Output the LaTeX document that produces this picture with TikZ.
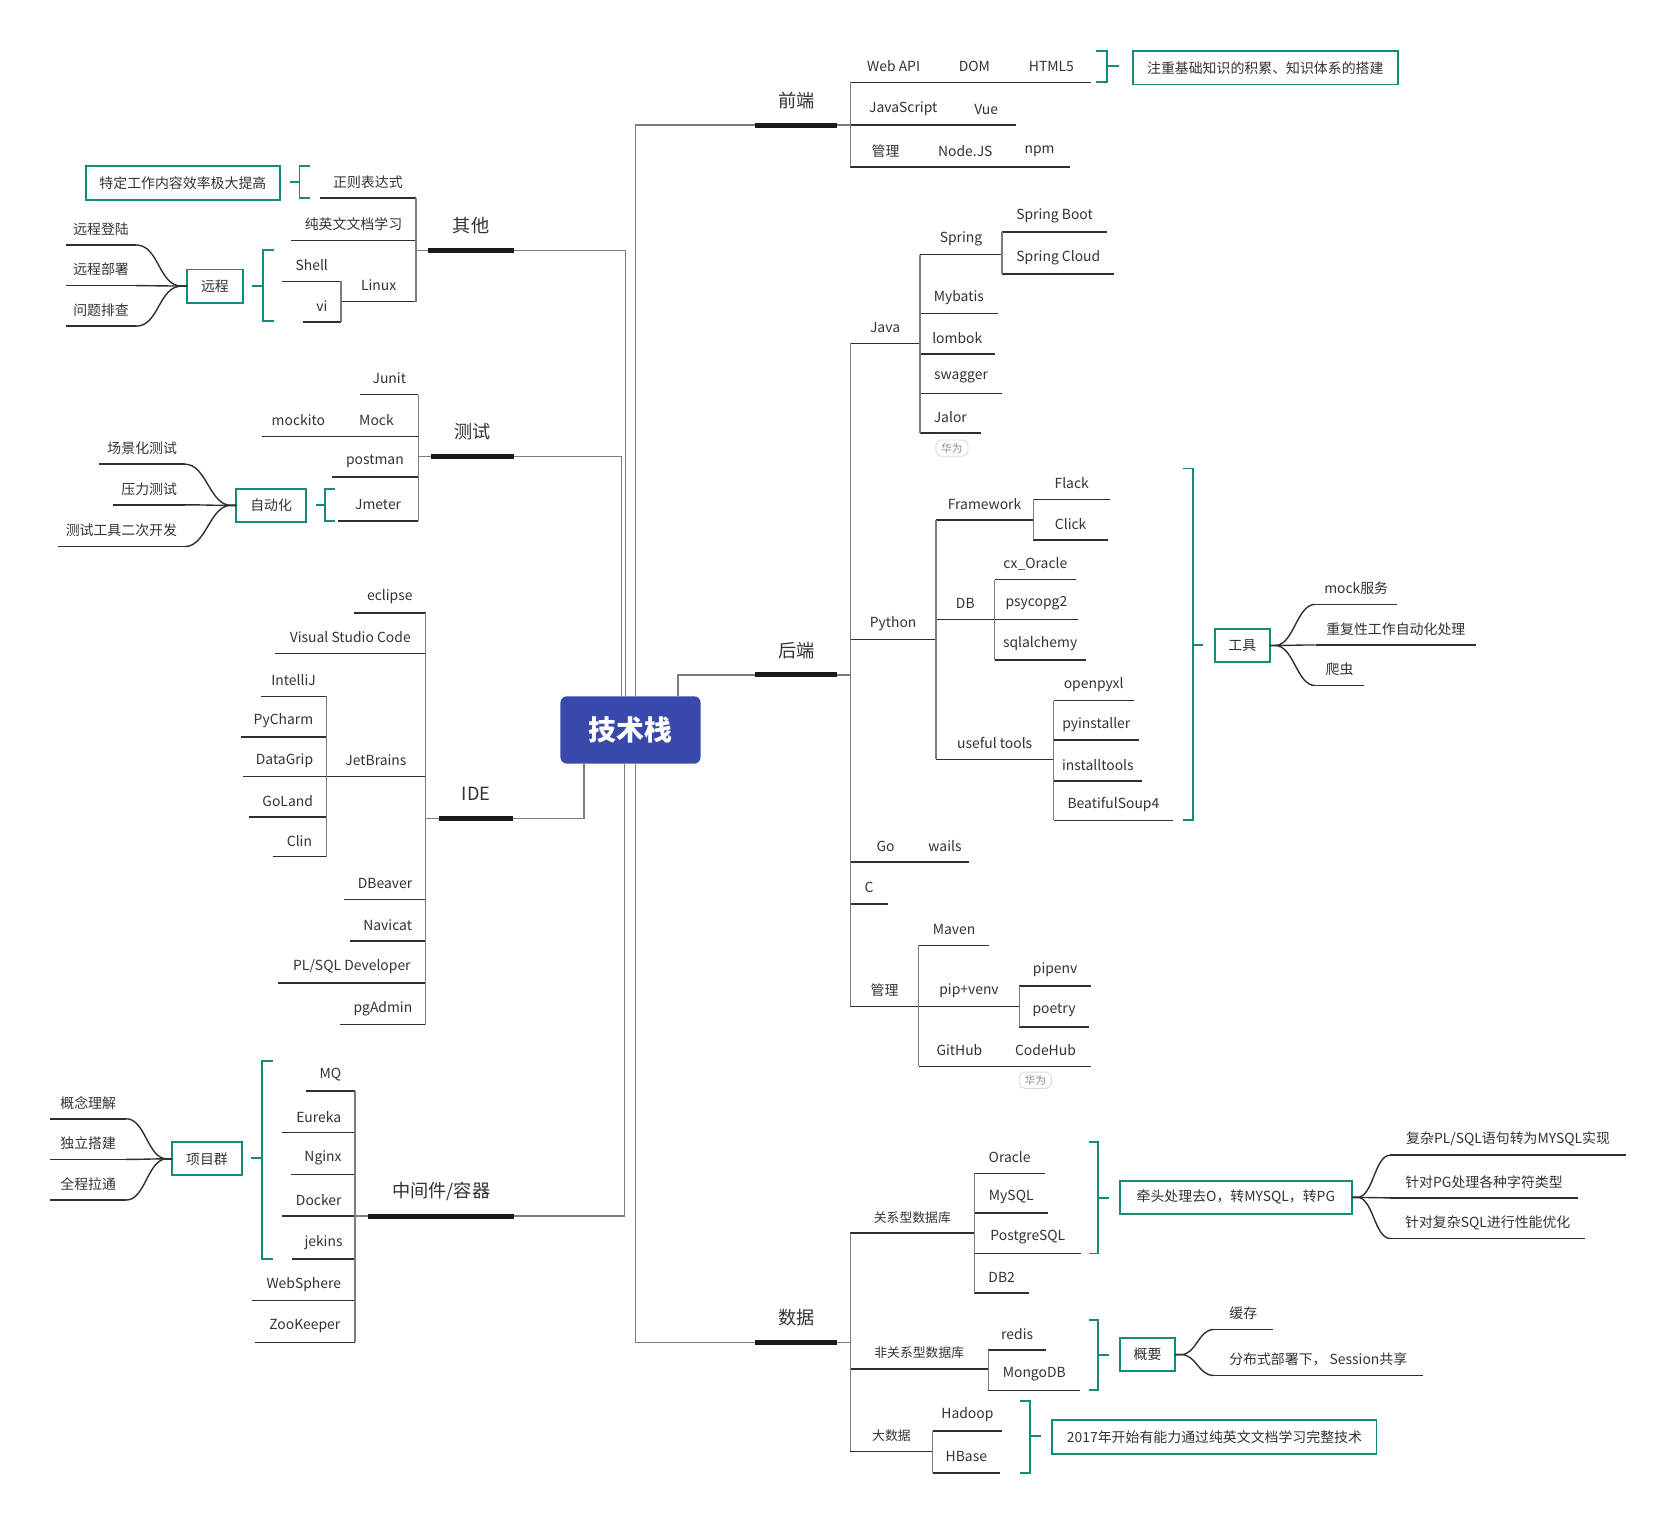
\documentclass[tikz,border=0pt]{standalone}
\usepackage{fontspec}
\setmainfont{Noto Sans CJK SC}
\newcommand\myfs[1]{\fontsize{#1}{#1}\selectfont}
\definecolor{cblue}{HTML}{3949AB}
\definecolor{tealc}{HTML}{138A7A}
\definecolor{ulc}{HTML}{2F2F2F}
\definecolor{thkc}{HTML}{1A1A1A}
\definecolor{connc}{HTML}{7C7C7C}
\definecolor{txtc}{HTML}{333333}
\definecolor{tagc}{HTML}{D9D9D9}
\definecolor{tagt}{HTML}{8A8A8A}
\begin{document}
\begin{tikzpicture}[x=1pt,y=-1pt,
  lbl/.style={inner sep=0pt, outer sep=0pt, text=txtc, font=\myfs{13}},
  uline/.style={draw=ulc, line width=1.4pt},
  thk/.style={draw=thkc, line width=4.5pt},
  conn/.style={draw=connc, line width=1.3pt},
  curv/.style={draw=ulc, line width=1.3pt},
  leafR/.style={lbl, anchor=south west, minimum height=30pt, append after command={(\tikzlastnode.south west) edge[uline] (\tikzlastnode.south east)}},
  leafL/.style={lbl, anchor=south east, minimum height=30pt, append after command={(\tikzlastnode.south west) edge[uline] (\tikzlastnode.south east)}},
  mainb/.style={lbl, anchor=south west, font=\myfs{17}, minimum height=46pt, append after command={(\tikzlastnode.south west) edge[thk] (\tikzlastnode.south east)}},
  sbox/.style={lbl, draw=tealc, line width=1.8pt, minimum height=31pt},
  brk/.style={draw=tealc, line width=1.8pt},
  tagn/.style={lbl, draw=tagc, line width=0.8pt, rounded corners=5pt, text=tagt, font=\myfs{10}, inner xsep=5pt, inner ysep=3pt},
  small/.style={font=\myfs{12}}
]
\fill[white] (0,0) rectangle (1567,1423);
\useasboundingbox (0,0) rectangle (1567,1423);

% centre
\node[fill=cblue, rounded corners=6pt, minimum width=131pt, minimum height=63pt, inner sep=0pt, text=white, font=\myfs{26}\bfseries] (ctr) at (589.5,682.5) {技术栈};

% main branches
\node[mainb, minimum width=77pt] (qd) at (706,117) {前端};
\node[mainb, minimum width=77pt] (hd) at (706,631) {后端};
\node[mainb, minimum width=77pt] (sj) at (706,1255) {数据};
\node[mainb, minimum width=81pt] (qita) at (400,234) {其他};
\node[mainb, minimum width=78pt] (cs) at (403,427) {测试};
\node[mainb, minimum width=70pt] (ide) at (410,765) {IDE};
\node[mainb, minimum width=137pt] (zj) at (344,1137) {中间件/容器};

\draw[conn] (594,0 |- ctr.north) |- (qd.south west);
\draw[conn] (634,0 |- ctr.north) |- (hd.south west);
\draw[conn] (594,0 |- ctr.south) |- (sj.south west);
\draw[conn] (585,0 |- ctr.north) |- (qita.south east);
\draw[conn] (581,0 |- ctr.north) |- (cs.south east);
\draw[conn] (546,0 |- ctr.south) |- (ide.south east);
\draw[conn] (584,0 |- ctr.south) |- (zj.south east);

% ---------- 前端
\node[leafR, minimum width=81pt] (webapi) at (795,77) {Web API};
\node[leafR, minimum width=70pt] (dom) at (876,77) {DOM};
\node[leafR, minimum width=74pt] (html5) at (946,77) {HTML5};
\node[leafR, minimum width=99pt] (js) at (795,117) {JavaScript};
\node[leafR, minimum width=56pt] (vue) at (894,117) {Vue};
\node[leafR, minimum width=66pt] (gla) at (795,156) {管理};
\node[leafR, minimum width=83pt] (nodejs) at (861,156) {Node.JS};
\node[leafR, minimum width=56pt] (npm) at (944,156) {npm};
\foreach \c in {webapi,js,gla} \draw[conn] (qd.south east) -| (\c.south west);
\draw[brk] (1025,48) -- (1035,48) -- (1035,77) -- (1025,77) (1035,62) -- (1046,62);
\node[sbox, minimum width=248pt] (zhongzhi) at (1183,63.5) {注重基础知识的积累、知识体系的搭建};

% ---------- 后端
\node[leafR, minimum width=65pt] (java) at (795,321) {Java};
\node[leafR, minimum width=77pt] (spring) at (860,238) {Spring};
\node[leafR, minimum width=98pt] (sboot) at (937,217) {Spring Boot};
\node[leafR, minimum width=105pt] (scloud) at (937,256) {Spring Cloud};
\node[leafR, minimum width=73pt] (mybatis) at (860,293) {Mybatis};
\node[leafR, minimum width=70pt] (lombok) at (860,331) {lombok};
\node[leafR, minimum width=77pt] (swagger) at (860,368) {swagger};
\node[leafR, minimum width=57pt] (jalor) at (860,405) {Jalor};
\node[tagn] (tag1) at (890,419) {华为};
\node[leafR, minimum width=80pt] (python) at (795,598) {Python};
\node[leafR, minimum width=91pt] (fw) at (875,486) {Framework};
\node[leafR, minimum width=72pt] (flack) at (966,467) {Flack};
\node[leafR, minimum width=70pt] (click) at (966,505) {Click};
\node[leafR, minimum width=55pt] (db) at (875,579) {DB};
\node[leafR, minimum width=76pt] (cxo) at (930,542) {cx\_Oracle};
\node[leafR, minimum width=78pt] (psy) at (930,579) {psycopg2};
\node[leafR, minimum width=85pt] (sqla) at (930,617) {sqlalchemy};
\node[leafR, minimum width=110pt] (useful) at (875,710) {useful tools};
\node[leafR, minimum width=75pt] (opx) at (985,655) {openpyxl};
\node[leafR, minimum width=80pt] (pyi) at (985,692) {pyinstaller};
\node[leafR, minimum width=83pt] (inst) at (985,730) {installtools};
\node[leafR, minimum width=112pt] (bs4) at (985,767) {BeatifulSoup4};
\node[leafR, minimum width=66pt] (go) at (795,806) {Go};
\node[leafR, minimum width=45pt] (wails) at (861,806) {wails};
\node[leafR, minimum width=35pt] (cc) at (795,845) {C};
\node[leafR, minimum width=64pt] (glb) at (795,941) {管理};
\node[leafR, minimum width=66pt] (maven) at (859,884) {Maven};
\node[leafR, minimum width=94pt] (pipv) at (859,941) {pip+venv};
\node[leafR, minimum width=67pt] (pipenv) at (953,922) {pipenv};
\node[leafR, minimum width=65pt] (poetry) at (953,960) {poetry};
\node[leafR, minimum width=76pt] (github) at (859,997) {GitHub};
\node[leafR, minimum width=85pt] (codehub) at (935,997) {CodeHub};
\node[tagn] (tag2) at (968,1010) {华为};

\foreach \c in {java,python,go,cc,glb} \draw[conn] (hd.south east) -| (\c.south west);
\foreach \c in {spring,mybatis,lombok,swagger,jalor} \draw[conn] (java.south east) -| (\c.south west);
\foreach \c in {sboot,scloud} \draw[conn] (spring.south east) -| (\c.south west);
\foreach \c in {fw,db,useful} \draw[conn] (python.south east) -| (\c.south west);
\foreach \c in {flack,click} \draw[conn] (fw.south east) -| (\c.south west);
\foreach \c in {cxo,psy,sqla} \draw[conn] (db.south east) -| (\c.south west);
\foreach \c in {opx,pyi,inst,bs4} \draw[conn] (useful.south east) -| (\c.south west);
\foreach \c in {maven,pipv,github} \draw[conn] (glb.south east) -| (\c.south west);
\foreach \c in {pipenv,poetry} \draw[conn] (pipv.south east) -| (\c.south west);

\draw[brk] (1106,438) -- (1115,438) -- (1115,767) -- (1106,767) (1115,603) -- (1125,603);
\node[sbox, minimum width=51pt] (gj) at (1161.5,603.5) {工具};
\node[leafR, minimum width=76pt] (gj1) at (1230,565) {mock服务};
\node[leafR, minimum width=150pt] (gj2) at (1230,603) {重复性工作自动化处理};
\node[leafR, minimum width=45pt] (gj3) at (1230,641) {爬虫};
\foreach \c in {gj1,gj2,gj3} \draw[curv] (gj.east) -- ++(5,0) .. controls +(18,0) and +(-18,0) .. (\c.south west);

% ---------- 数据
\node[leafR, small, minimum width=116pt] (gx) at (795,1153) {关系型数据库};
\node[leafR, minimum width=66pt] (oracle) at (911,1097) {Oracle};
\node[leafR, minimum width=69pt] (mysql) at (911,1134) {MySQL};
\node[leafR, minimum width=100pt] (pg) at (911,1172) {PostgreSQL};
\node[leafR, minimum width=51pt] (db2) at (911,1209) {DB2};
\node[leafR, small, minimum width=129pt] (fg) at (795,1280) {非关系型数据库};
\node[leafR, minimum width=54pt] (redis) at (924,1262) {redis};
\node[leafR, minimum width=86pt] (mongo) at (924,1300) {MongoDB};
\node[leafR, small, minimum width=77pt] (dsj) at (795,1357) {大数据};
\node[leafR, minimum width=65pt] (hadoop) at (872,1338) {Hadoop};
\node[leafR, minimum width=63pt] (hbase) at (872,1377) {HBase};
\foreach \c in {gx,fg,dsj} \draw[conn] (sj.south east) -| (\c.south west);
\foreach \c in {oracle,mysql,pg,db2} \draw[conn] (gx.south east) -| (\c.south west);
\foreach \c in {redis,mongo} \draw[conn] (fg.south east) -| (\c.south west);
\foreach \c in {hadoop,hbase} \draw[conn] (dsj.south east) -| (\c.south west);

\draw[brk] (1018,1068) -- (1027,1068) -- (1027,1172) -- (1018,1172) (1027,1120) -- (1037,1120);
\node[sbox, minimum width=217pt] (qtou) at (1155.5,1119.5) {牵头处理去O，转MYSQL，转PG};
\node[leafR, minimum width=220pt] (q1) at (1300,1080) {复杂PL/SQL语句转为MYSQL实现};
\node[leafR, minimum width=175pt] (q2) at (1300,1120) {针对PG处理各种字符类型};
\node[leafR, minimum width=182pt] (q3) at (1300,1158) {针对复杂SQL进行性能优化};
\foreach \c in {q1,q2,q3} \draw[curv] (qtou.east) -- ++(5,0) .. controls +(15,0) and +(-15,0) .. (\c.south west);

\draw[brk] (1018,1234) -- (1027,1234) -- (1027,1300) -- (1018,1300) (1027,1267) -- (1037,1267);
\node[sbox, minimum width=52pt] (gy) at (1073,1266.5) {概要};
\node[leafR, minimum width=55pt] (gy1) at (1135,1243) {缓存};
\node[leafR, minimum width=195pt] (gy2) at (1135,1286) {分布式部署下， Session共享};
\foreach \c in {gy1,gy2} \draw[curv] (gy.east) -- ++(5,0) .. controls +(15,0) and +(-15,0) .. (\c.south west);

\draw[brk] (954,1310) -- (963,1310) -- (963,1377) -- (954,1377) (963,1343) -- (973,1343);
\node[sbox, minimum width=303pt] (y2017) at (1135.5,1343.5) {2017年开始有能力通过纯英文文档学习完整技术};

% ---------- 其他
\node[leafL, minimum width=90pt] (zz) at (389,185) {正则表达式};
\node[leafL, minimum width=117pt] (cy) at (389,225) {纯英文文档学习};
\node[leafL, minimum width=70pt] (linux) at (389,282) {Linux};
\node[leafL, minimum width=55pt] (shell) at (319,263) {Shell};
\node[leafL, minimum width=36pt] (vi) at (319,301) {vi};
\foreach \c in {zz,cy,linux} \draw[conn] (qita.south west) -| (\c.south east);
\foreach \c in {shell,vi} \draw[conn] (linux.south west) -| (\c.south east);
\draw[brk] (290,155) -- (280,155) -- (280,185) -- (290,185) (280,170) -- (271,170);
\node[sbox, minimum width=182pt, minimum height=32pt] (tdgz) at (171,171) {特定工作内容效率极大提高};
\draw[brk] (256,234) -- (246,234) -- (246,300) -- (256,300) (246,267) -- (236,267);
\node[sbox, minimum width=52pt] (yc) at (201,267.5) {远程};
\node[leafL, minimum width=65pt] (yl1) at (127,229) {远程登陆};
\node[leafL, minimum width=65pt] (yl2) at (127,267) {远程部署};
\node[leafL, minimum width=65pt] (yl3) at (127,305) {问题排查};
\foreach \c in {yl1,yl2,yl3} \draw[curv] (yc.west) -- ++(-5,0) .. controls +(-22,0) and +(22,0) .. (\c.south east);

% ---------- 测试
\node[leafL, minimum width=54pt] (junit) at (391,369) {Junit};
\node[leafL, minimum width=78pt] (mock) at (391,408) {Mock};
\node[leafL, minimum width=68pt] (mockito) at (313,408) {mockito};
\node[leafL, minimum width=81pt] (postman) at (391,446) {postman};
\node[leafL, minimum width=75pt] (jmeter) at (391,487) {Jmeter};
\foreach \c in {junit,mock,postman,jmeter} \draw[conn] (cs.south west) -| (\c.south east);
\draw[brk] (313,457) -- (304,457) -- (304,487) -- (313,487) (304,472) -- (295,472);
\node[sbox, minimum width=65pt] (zdh) at (253.5,472.5) {自动化};
\node[leafL, minimum width=80pt] (zd1) at (173,434) {场景化测试};
\node[leafL, minimum width=67pt] (zd2) at (173,472) {压力测试};
\node[leafL, minimum width=119pt] (zd3) at (173,511) {测试工具二次开发};
\foreach \c in {zd1,zd2,zd3} \draw[curv] (zdh.west) -- ++(-5,0) .. controls +(-20,0) and +(20,0) .. (\c.south east);

% ---------- IDE
\node[leafL, minimum width=67pt] (eclipse) at (398,573) {eclipse};
\node[leafL, minimum width=141pt] (vsc) at (398,611) {Visual Studio Code};
\node[leafL, minimum width=93pt] (jb) at (398,726) {JetBrains};
\node[leafL, minimum width=61pt] (intellij) at (305,651) {IntelliJ};
\node[leafL, minimum width=80pt] (pycharm) at (305,689) {PyCharm};
\node[leafL, minimum width=78pt] (datagrip) at (305,726) {DataGrip};
\node[leafL, minimum width=72pt] (goland) at (305,764) {GoLand};
\node[leafL, minimum width=50pt] (clin) at (305,801) {Clin};
\node[leafL, minimum width=76pt] (dbeaver) at (398,841) {DBeaver};
\node[leafL, minimum width=71pt] (navicat) at (398,880) {Navicat};
\node[leafL, minimum width=138pt] (plsql) at (398,919) {PL/SQL Developer};
\node[leafL, minimum width=80pt] (pgadmin) at (398,958) {pgAdmin};
\foreach \c in {eclipse,vsc,jb,dbeaver,navicat,plsql,pgadmin} \draw[conn] (ide.south west) -| (\c.south east);
\foreach \c in {intellij,pycharm,datagrip,goland,clin} \draw[conn] (jb.south west) -| (\c.south east);

% ---------- 中间件/容器
\node[leafL, minimum width=46pt] (mq) at (332,1020) {MQ};
\node[leafL, minimum width=68pt] (eureka) at (332,1059) {Eureka};
\node[leafL, minimum width=60pt] (nginx) at (332,1098) {Nginx};
\node[leafL, minimum width=68pt] (docker) at (332,1137) {Docker};
\node[leafL, minimum width=59pt] (jekins) at (332,1177) {jekins};
\node[leafL, minimum width=96pt] (websphere) at (332,1216) {WebSphere};
\node[leafL, minimum width=94pt] (zookeeper) at (332,1255) {ZooKeeper};
\foreach \c in {mq,eureka,nginx,docker,jekins,websphere,zookeeper} \draw[conn] (zj.south west) -| (\c.south east);
\draw[brk] (255,992) -- (245,992) -- (245,1177) -- (255,1177) (245,1083) -- (235,1083);
\node[sbox, minimum width=65pt] (xmq) at (193.5,1083.5) {项目群};
\node[leafL, minimum width=71pt] (xm1) at (118,1046) {概念理解};
\node[leafL, minimum width=71pt] (xm2) at (118,1084) {独立搭建};
\node[leafL, minimum width=71pt] (xm3) at (118,1122) {全程拉通};
\foreach \c in {xm1,xm2,xm3} \draw[curv] (xmq.west) -- ++(-5,0) .. controls +(-18,0) and +(18,0) .. (\c.south east);
\end{tikzpicture}
\end{document}
